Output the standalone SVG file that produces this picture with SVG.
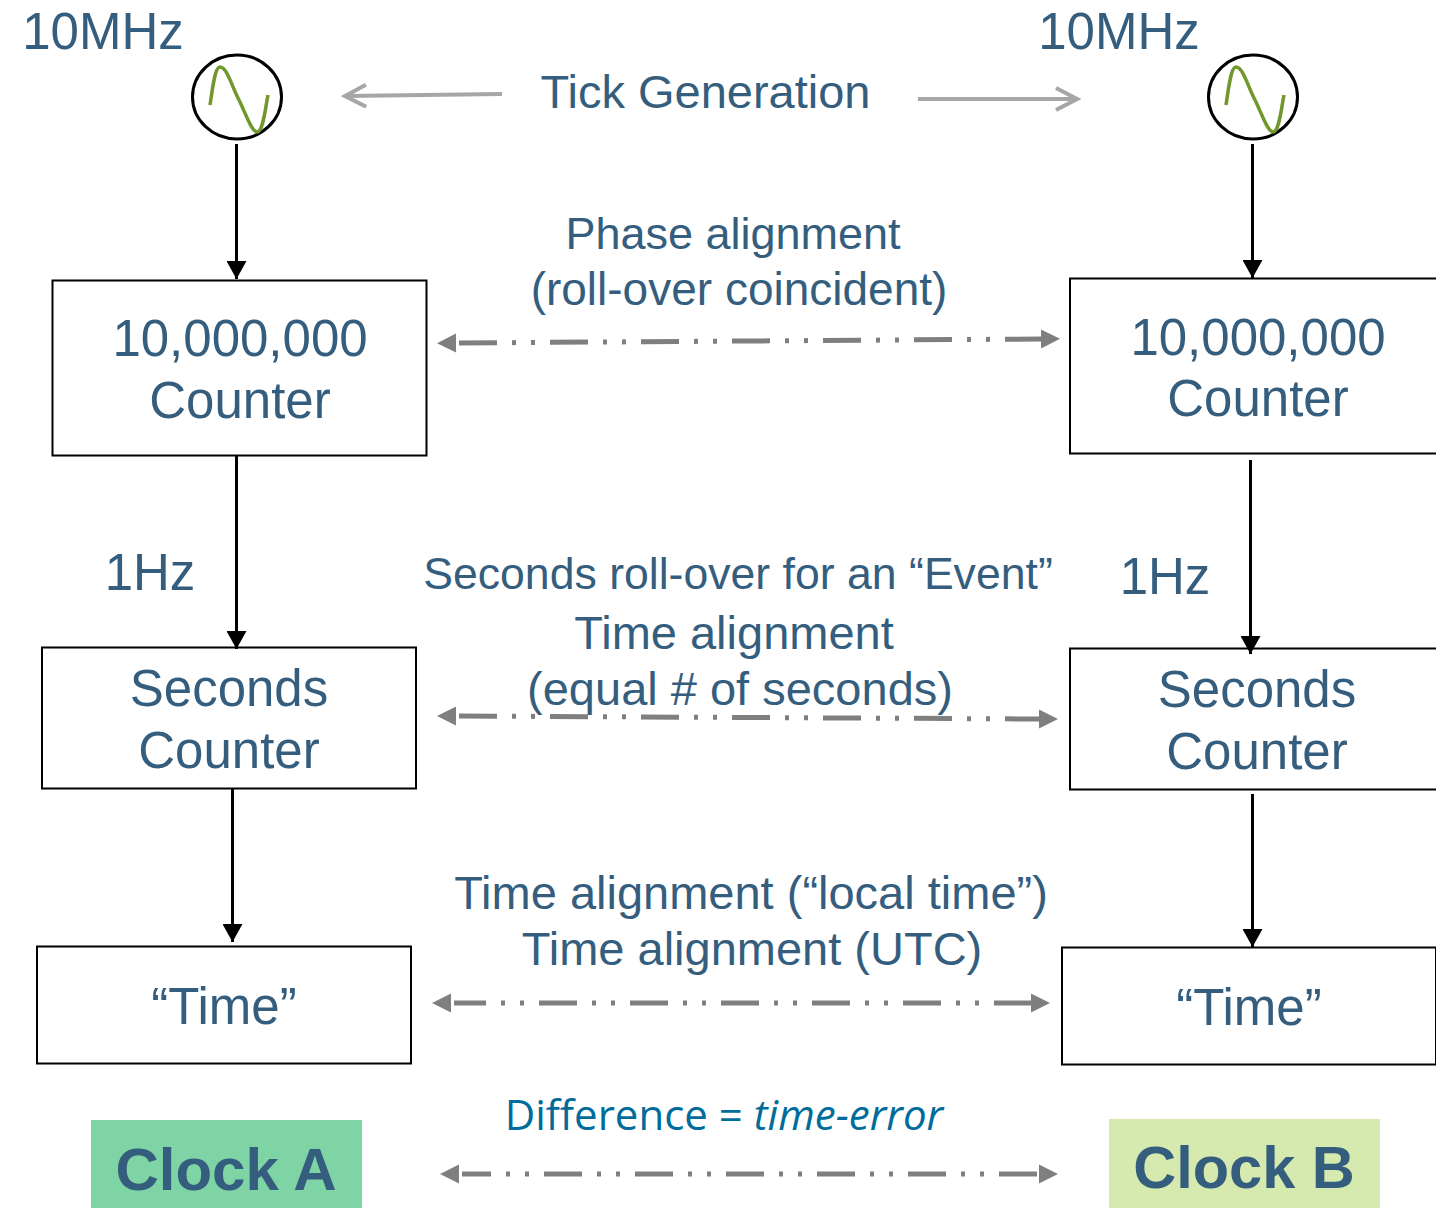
<svg xmlns="http://www.w3.org/2000/svg" width="1436" height="1208" viewBox="0 0 1436 1208">
<style>
text{font-family:"Liberation Sans",Arial,sans-serif;fill:#355e7e;text-anchor:middle}
.b{fill:#fff;stroke:#000;stroke-width:2}
.c{font-size:51px}
.l{font-size:51px}
.t47{font-size:47px}
.m{font-size:47px}
.p{font-size:45px}
.r{font-size:46px}
.e{font-size:44.600px}
.k{fill:none;stroke:#000;stroke-width:3}
.g{fill:none;stroke:#7f7f7f;stroke-width:5;stroke-dasharray:38 15 4 15 4 15}
.t{fill:none;stroke:#a6a6a6;stroke-width:4}
.o{fill:#fff;stroke:#000;stroke-width:3}
.s{fill:none;stroke:#70982c;stroke-width:3.5}
.n{font-size:60px;font-weight:bold}
</style>
<defs>
<marker id="ak" markerUnits="userSpaceOnUse" markerWidth="20" markerHeight="20" refX="18" refY="10" orient="auto"><path d="M0 0L18 10L0 20Z" fill="#000"/></marker>
<marker id="ag" markerUnits="userSpaceOnUse" markerWidth="20" markerHeight="20" refX="0" refY="10" orient="auto"><path d="M0 0.500L19 10L0 19.500Z" fill="#7f7f7f"/></marker>
<marker id="ags" markerUnits="userSpaceOnUse" markerWidth="22" markerHeight="20" refX="22" refY="10" orient="auto"><path d="M19 0.500L0 10L19 19.500Z" fill="#7f7f7f"/></marker>
<marker id="at" markerUnits="userSpaceOnUse" markerWidth="30" markerHeight="30" refX="26" refY="14" orient="auto"><path d="M5 3L26 14L5 25" fill="none" stroke="#a6a6a6" stroke-width="4"/></marker>
</defs>
<g id="osc-a">
<ellipse class="o" cx="237" cy="97" rx="44.500" ry="42"/>
<path class="s" d="M210 105C213 85 215 67 220 67C227 67 231 85 240 102C247 117 252 132 257 132C263 132 265 110 268 95"/>
</g>
<g id="osc-b">
<ellipse class="o" cx="1253" cy="97" rx="44.500" ry="42"/>
<path class="s" d="M1226 105C1229 85 1231 67 1236 67C1243 67 1247 85 1256 102C1263 117 1268 132 1273 132C1279 132 1281 110 1284 95"/>
</g>
<g id="label-10mhz-a"><text class="l" x="103" y="49">10MHz</text></g>
<g id="label-10mhz-b"><text class="l" x="1119" y="49">10MHz</text></g>
<g id="label-tick"><text class="t47" x="705.500" y="108">Tick Generation</text></g>
<g id="counter-a"><rect class="b" x="52.500" y="280.500" width="374" height="175"/><text class="c" x="240" y="356">10,000,000</text><text class="c" x="240" y="418">Counter</text></g>
<g id="counter-b"><rect class="b" x="1070" y="278.500" width="374" height="175"/><text class="c" x="1258" y="355">10,000,000</text><text class="c" x="1258" y="416">Counter</text></g>
<g id="seconds-a"><rect class="b" x="42" y="647.500" width="374" height="141"/><text class="c" x="229" y="706">Seconds</text><text class="c" x="229" y="768">Counter</text></g>
<g id="seconds-b"><rect class="b" x="1070" y="648.500" width="374" height="141"/><text class="c" x="1257" y="707">Seconds</text><text class="c" x="1257" y="769">Counter</text></g>
<g id="time-a"><rect class="b" x="37" y="946.500" width="374" height="117"/><text class="c" x="224" y="1024">“Time”</text></g>
<g id="time-b"><rect class="b" x="1062" y="947.500" width="374" height="117"/><text class="c" x="1249" y="1025">“Time”</text></g>
<g id="connectors">
<path class="k" marker-end="url(#ak)" d="M236.500 144V279"/>
<path class="k" marker-end="url(#ak)" d="M1252.500 144V278"/>
<path class="k" marker-end="url(#ak)" d="M236.500 456V649"/>
<path class="k" marker-end="url(#ak)" d="M1250.500 460V654"/>
<path class="k" marker-end="url(#ak)" d="M232.500 789V942"/>
<path class="k" marker-end="url(#ak)" d="M1252.500 794V947"/>
<path class="t" marker-end="url(#at)" d="M502 94L345 96"/>
<path class="t" marker-end="url(#at)" d="M918 99H1077"/>
<path class="g" marker-start="url(#ags)" marker-end="url(#ag)" d="M459 343L1041 339"/>
<path class="g" marker-start="url(#ags)" marker-end="url(#ag)" d="M459 716L1039 719"/>
<path class="g" marker-start="url(#ags)" marker-end="url(#ag)" stroke-dashoffset="6" d="M454 1003H1031"/>
<path class="g" marker-start="url(#ags)" marker-end="url(#ag)" stroke-dashoffset="9" d="M462 1174H1039"/>
</g>
<g id="label-1hz-a"><text class="l" x="150" y="590">1Hz</text></g>
<g id="label-1hz-b"><text class="l" x="1165" y="594">1Hz</text></g>
<g id="label-phase"><text class="p" x="733" y="249">Phase alignment</text><text class="r" x="739" y="305">(roll-over coincident)</text></g>
<g id="label-seconds"><text class="e" x="738" y="589">Seconds roll-over for an “Event”</text><text class="m" x="734" y="649">Time alignment</text><text class="m" x="740" y="705">(equal # of seconds)</text></g>
<g id="label-time"><text class="m" x="751" y="909">Time alignment (“local time”)</text><text class="m" x="752" y="965">Time alignment (UTC)</text></g>
<g id="label-diff"><text x="724" y="1130" style="font-family:'Open Sans','Noto Sans',sans-serif;font-size:42px;fill:#006c9b">Difference = <tspan font-style="italic">time-error</tspan></text></g>
<g id="clock-a"><rect x="91" y="1120" width="271" height="88" fill="#7fd4a5"/><text class="n" x="226" y="1190">Clock A</text></g>
<g id="clock-b"><rect x="1109" y="1119" width="271" height="89" fill="#d6e9ae"/><text class="n" x="1244" y="1188" style="font-size:59.500px">Clock B</text></g>
</svg>
